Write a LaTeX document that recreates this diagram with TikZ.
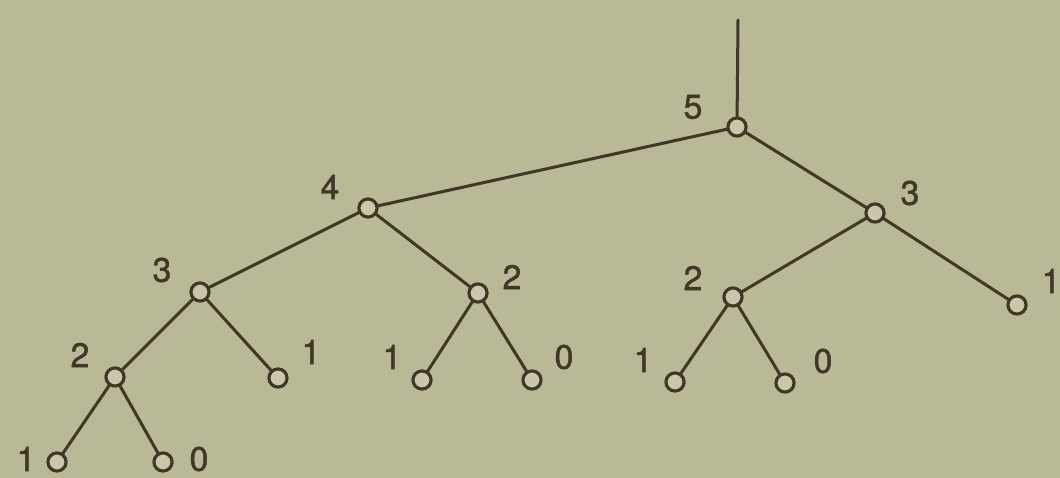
\documentclass[tikz,border=0pt]{standalone}
\usepackage{fontspec}
\setmainfont{TeX Gyre Heros}
\newfontfamily\numfont[FakeBold=1.2]{TeX Gyre Heros}
\definecolor{paper}{RGB}{185,184,151}
\definecolor{hole}{RGB}{202,200,170}
\definecolor{ink}{RGB}{62,56,36}
\tikzset{
  vertex/.style={circle, draw=ink, fill=hole, line width=3pt, inner sep=0pt, minimum size=18pt},
  num/.style={text=ink, font=\numfont\fontsize{34}{34}\selectfont, inner sep=0pt},
}

\begin{document}
\begin{tikzpicture}[line width=3pt, line cap=round, line join=round, x=1pt, y=-1pt, ink]
  % Paper and fixed frame.
  \fill[paper] (0,0) rectangle (1060,478);
  \useasboundingbox (0,0) rectangle (1060,478);
  % Vertices of the tree.
  \coordinate (top) at (738,20);
  \node[vertex] (v5)  at (737,127) {};
  \node[vertex] (v4)  at (368,208) {};
  \node[vertex] (v3r) at (875,213) {};
  \node[vertex] (v3l) at (200,292) {};
  \node[vertex] (v2a) at (478,293) {};
  \node[vertex] (v2b) at (733,297) {};
  \node[vertex] (v1r) at (1017,305) {};
  \node[vertex] (v2l) at (115,377) {};
  \node[vertex] (v1a) at (278,378) {};
  \node[vertex] (v1b) at (422,380) {};
  \node[vertex] (v0a) at (532,380) {};
  \node[vertex] (v1c) at (675,382) {};
  \node[vertex] (v0b) at (785,383) {};
  \node[vertex] (v1d) at (57,462) {};
  \node[vertex] (v0c) at (163,462) {};
  % Edges.
  \draw[draw=ink] (top) -- (v5);
  \draw[draw=ink] (v5) -- (v4);
  \draw[draw=ink] (v5) -- (v3r);
  \draw[draw=ink] (v4) -- (v3l);
  \draw[draw=ink] (v4) -- (v2a);
  \draw[draw=ink] (v3r) -- (v2b);
  \draw[draw=ink] (v3r) -- (v1r);
  \draw[draw=ink] (v3l) -- (v2l);
  \draw[draw=ink] (v3l) -- (v1a);
  \draw[draw=ink] (v2a) -- (v1b);
  \draw[draw=ink] (v2a) -- (v0a);
  \draw[draw=ink] (v2b) -- (v1c);
  \draw[draw=ink] (v2b) -- (v0b);
  \draw[draw=ink] (v2l) -- (v1d);
  \draw[draw=ink] (v2l) -- (v0c);
  % Redraw the rings on top of the edges.
  \foreach \v in {v5,v4,v3r,v3l,v2a,v2b,v1r,v2l,v1a,v1b,v0a,v1c,v0b,v1d,v0c}
    \draw[draw=ink, fill=hole] (\v) circle (9pt);
  % Heights.
  \node[num] (h5)  at (693,107) {5};
  \node[num] (h4)  at (330,187) {4};
  \node[num] (h3r) at (910,193) {3};
  \node[num] (h3l) at (162,270) {3};
  \node[num] (h2a) at (512,277) {2};
  \node[num] (h2b) at (693,278) {2};
  \node[num] (h1r) at (1051,281) {1};
  \node[num] (h2l) at (80,355) {2};
  \node[num] (h1a) at (311,352) {1};
  \node[num] (h1b) at (392,357) {1};
  \node[num] (h0a) at (564,357) {0};
  \node[num] (h1c) at (643,360) {1};
  \node[num] (h0b) at (823,361) {0};
  \node[num] (h1d) at (26,459) {1};
  \node[num] (h0c) at (199,459) {0};
\end{tikzpicture}
\end{document}
